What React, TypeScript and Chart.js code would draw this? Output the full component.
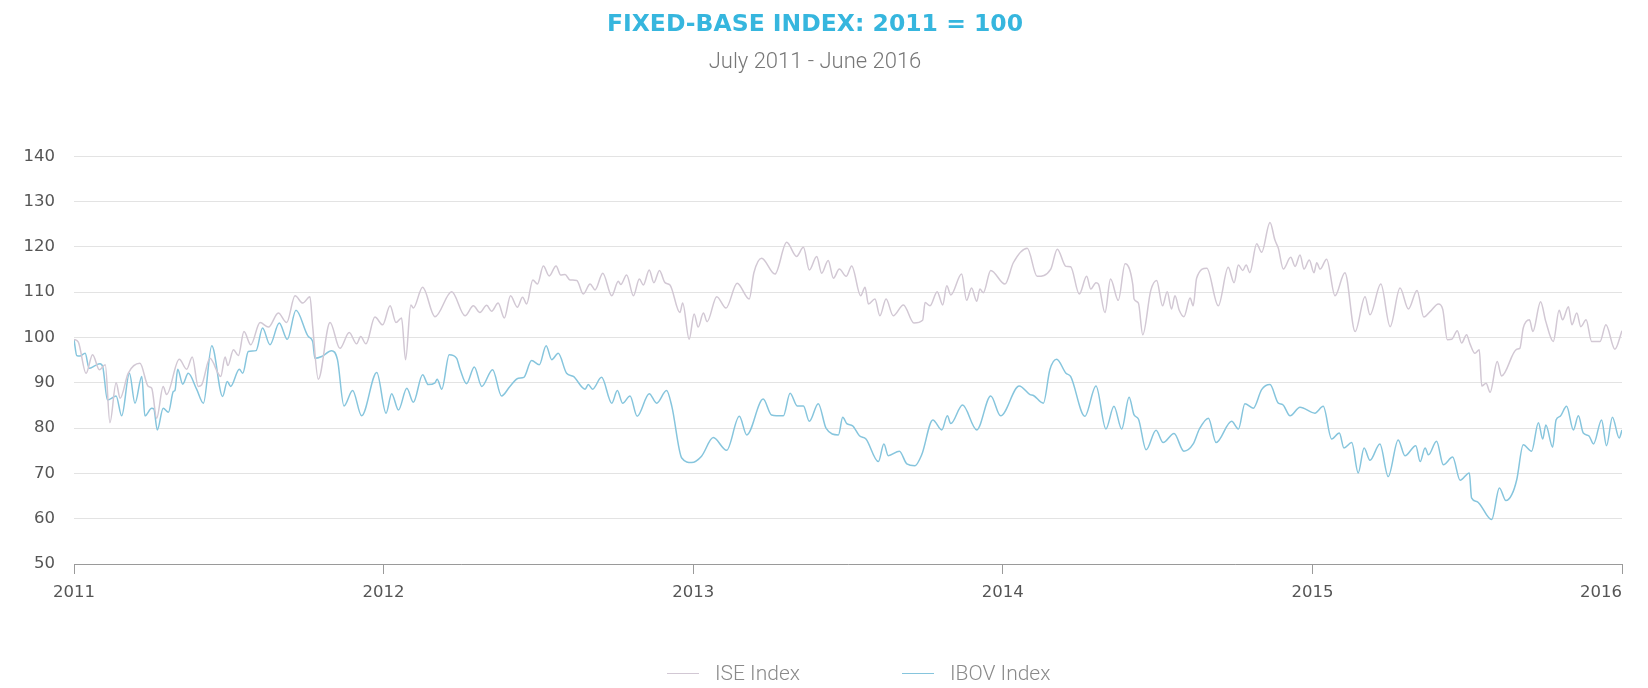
import React, { useEffect, useRef } from "react";
import { Chart, registerables } from "chart.js";

Chart.register(...registerables);

const TITLE = "FIXED-BASE INDEX: 2011 = 100";
const SUBTITLE = "July 2011 - June 2016";
const SERIES_NAMES = ["ISE Index", "IBOV Index"];
const SERIES_COLORS = ["#d2c8d4", "#86c5dd"];
const X_TICKS = [2011, 2012, 2013, 2014, 2015, 2016];
const Y_TICKS = [50, 60, 70, 80, 90, 100, 110, 120, 130, 140];

const iseDates = [
  2011.0, 2011.014, 2011.039, 2011.06, 2011.082, 2011.101, 2011.116, 2011.136, 2011.149, 2011.175,
  2011.213, 2011.24, 2011.251, 2011.267, 2011.288, 2011.299, 2011.34, 2011.364, 2011.382, 2011.401,
  2011.412, 2011.439, 2011.474, 2011.488, 2011.497, 2011.515, 2011.531, 2011.549, 2011.571, 2011.601,
  2011.628, 2011.66, 2011.687, 2011.714, 2011.739, 2011.762, 2011.771, 2011.789, 2011.827, 2011.859,
  2011.889, 2011.913, 2011.926, 2011.943, 2011.972, 2011.997, 2012.021, 2012.04, 2012.058, 2012.071,
  2012.088, 2012.096, 2012.126, 2012.166, 2012.22, 2012.263, 2012.29, 2012.311, 2012.333, 2012.349,
  2012.37, 2012.39, 2012.41, 2012.432, 2012.449, 2012.462, 2012.482, 2012.497, 2012.516, 2012.535,
  2012.557, 2012.572, 2012.586, 2012.602, 2012.624, 2012.645, 2012.667, 2012.683, 2012.708, 2012.737,
  2012.758, 2012.766, 2012.785, 2012.807, 2012.826, 2012.839, 2012.858, 2012.873, 2012.891, 2012.909,
  2012.925, 2012.957, 2012.966, 2012.987, 2013.003, 2013.016, 2013.033, 2013.045, 2013.076, 2013.106,
  2013.142, 2013.181, 2013.196, 2013.221, 2013.264, 2013.302, 2013.334, 2013.356, 2013.375, 2013.399,
  2013.415, 2013.436, 2013.453, 2013.472, 2013.494, 2013.512, 2013.541, 2013.555, 2013.566, 2013.587,
  2013.603, 2013.623, 2013.646, 2013.679, 2013.713, 2013.741, 2013.749, 2013.765, 2013.788, 2013.806,
  2013.819, 2013.832, 2013.867, 2013.883, 2013.899, 2013.916, 2013.926, 2013.937, 2013.961, 2014.007,
  2014.034, 2014.079, 2014.111, 2014.155, 2014.176, 2014.204, 2014.219, 2014.247, 2014.271, 2014.284,
  2014.301, 2014.309, 2014.33, 2014.348, 2014.373, 2014.395, 2014.42, 2014.424, 2014.438, 2014.452,
  2014.478, 2014.497, 2014.516, 2014.531, 2014.545, 2014.556, 2014.57, 2014.585, 2014.605, 2014.615,
  2014.626, 2014.659, 2014.696, 2014.728, 2014.747, 2014.761, 2014.775, 2014.786, 2014.798, 2014.82,
  2014.836, 2014.863, 2014.879, 2014.89, 2014.906, 2014.93, 2014.944, 2014.96, 2014.973, 2014.99,
  2015.005, 2015.014, 2015.025, 2015.046, 2015.073, 2015.105, 2015.138, 2015.17, 2015.186, 2015.221,
  2015.251, 2015.283, 2015.31, 2015.338, 2015.36, 2015.38, 2015.407, 2015.421, 2015.436, 2015.45,
  2015.468, 2015.482, 2015.498, 2015.509, 2015.525, 2015.539, 2015.547, 2015.561, 2015.574, 2015.597,
  2015.611, 2015.66, 2015.67, 2015.681, 2015.701, 2015.712, 2015.737, 2015.754, 2015.778, 2015.797,
  2015.808, 2015.827, 2015.838, 2015.854, 2015.867, 2015.884, 2015.902, 2015.929, 2015.948, 2015.977,
  2016.0,
];
const iseValues = [
  99.6, 99, 92.1, 96.2, 92.9, 94, 81.2, 90, 86.6, 92.1,
  94.3, 89.2, 88.8, 82.2, 89.2, 87.4, 95.2, 93, 95.7, 89.2,
  89.5, 95.4, 91.4, 95.7, 93.8, 97.3, 96, 101.3, 98.4, 103.3,
  102.3, 105.4, 103.3, 109.2, 107.6, 109, 102.4, 90.8, 103.3, 97.6,
  101.1, 98.6, 100.2, 98.6, 104.5, 102.8, 107, 103.3, 104.3, 95.1,
  107.2, 106.5, 111.1, 104.6, 110.1, 104.8, 107, 105.5, 107.1, 105.8,
  107.6, 104.3, 109.2, 106.7, 108.9, 107.4, 112.7, 111.8, 115.8, 113.6,
  115.8, 113.8, 113.9, 112.7, 112.6, 109.6, 111.8, 110.5, 114.2, 109.2,
  112.4, 111.7, 113.8, 109.2, 112.9, 111.6, 114.9, 112.1, 114.8, 112.1,
  111.6, 105.5, 107.6, 99.6, 105.2, 102.3, 105.4, 103.5, 109, 106.5,
  112, 108.5, 114.3, 117.5, 114, 121, 117.9, 119.9, 114.9, 117.9,
  114.2, 117, 113.1, 115.1, 113.5, 115.8, 109.2, 111.1, 107.4, 108.5,
  104.8, 108.5, 104.8, 107.2, 103.2, 103.8, 107.7, 107, 110.1, 107.2,
  111.4, 109.4, 114, 108.2, 110.9, 108, 110.7, 109.9, 114.8, 111.8,
  116.5, 119.7, 113.5, 115.1, 119.5, 115.7, 115.6, 109.6, 113.5, 110.7,
  112.1, 111.8, 105.5, 112.9, 108.2, 116.3, 111.6, 108.5, 107.6, 100.6,
  110.4, 112.6, 107, 110.1, 106.3, 109.2, 106, 104.6, 108.7, 107,
  113.1, 115.3, 107, 115.5, 112.1, 116, 114.8, 116, 114.3, 120.7,
  118.8, 125.4, 121.5, 119.7, 115.1, 117.7, 115.7, 118.2, 115.1, 117.1,
  114.3, 116.5, 115.1, 117.3, 109.2, 114.3, 101.3, 109, 105, 111.8,
  102.4, 110.9, 106.3, 110.4, 104.5, 105.7, 107.4, 106.2, 99.5, 99.6,
  101.5, 98.8, 100.6, 98.6, 96.5, 97.3, 89.3, 89.9, 87.9, 94.7,
  91.5, 97.4, 97.6, 102.1, 103.9, 101.3, 107.9, 103.5, 99.1, 106,
  103.9, 106.8, 102.8, 105.4, 102.4, 103.9, 99.1, 99.1, 102.8, 97.4,
  101.5,
];

const ibovDates = [
  2011.0, 2011.009, 2011.019, 2011.036, 2011.049, 2011.068, 2011.084, 2011.093, 2011.108, 2011.127,
  2011.136, 2011.154, 2011.179, 2011.197, 2011.219, 2011.229, 2011.251, 2011.258, 2011.269, 2011.288,
  2011.305, 2011.321, 2011.326, 2011.335, 2011.351, 2011.369, 2011.396, 2011.418, 2011.445, 2011.48,
  2011.495, 2011.506, 2011.534, 2011.545, 2011.563, 2011.588, 2011.609, 2011.633, 2011.663, 2011.689,
  2011.717, 2011.757, 2011.771, 2011.778, 2011.8, 2011.832, 2011.851, 2011.872, 2011.9, 2011.929,
  2011.978, 2012.008, 2012.026, 2012.048, 2012.075, 2012.096, 2012.126, 2012.144, 2012.166, 2012.173,
  2012.188, 2012.212, 2012.236, 2012.247, 2012.268, 2012.293, 2012.317, 2012.352, 2012.381, 2012.408,
  2012.435, 2012.453, 2012.478, 2012.503, 2012.525, 2012.543, 2012.564, 2012.591, 2012.613, 2012.651,
  2012.661, 2012.675, 2012.704, 2012.737, 2012.755, 2012.772, 2012.796, 2012.819, 2012.858, 2012.882,
  2012.914, 2012.931, 2012.963, 2012.995, 2013.027, 2013.065, 2013.108, 2013.149, 2013.173, 2013.226,
  2013.253, 2013.291, 2013.313, 2013.336, 2013.356, 2013.375, 2013.404, 2013.429, 2013.469, 2013.483,
  2013.496, 2013.515, 2013.537, 2013.558, 2013.598, 2013.616, 2013.63, 2013.666, 2013.69, 2013.716,
  2013.738, 2013.774, 2013.803, 2013.821, 2013.832, 2013.87, 2013.916, 2013.961, 2013.993, 2014.053,
  2014.088, 2014.099, 2014.131, 2014.152, 2014.174, 2014.204, 2014.219, 2014.265, 2014.301, 2014.333,
  2014.359, 2014.384, 2014.408, 2014.424, 2014.438, 2014.463, 2014.495, 2014.518, 2014.553, 2014.585,
  2014.615, 2014.635, 2014.664, 2014.689, 2014.739, 2014.761, 2014.782, 2014.809, 2014.836, 2014.863,
  2014.89, 2014.904, 2014.928, 2014.96, 2015.008, 2015.035, 2015.062, 2015.087, 2015.102, 2015.127,
  2015.148, 2015.167, 2015.186, 2015.218, 2015.245, 2015.277, 2015.299, 2015.334, 2015.348, 2015.364,
  2015.375, 2015.401, 2015.423, 2015.453, 2015.477, 2015.507, 2015.514, 2015.531, 2015.579, 2015.604,
  2015.625, 2015.644, 2015.66, 2015.681, 2015.708, 2015.73, 2015.744, 2015.754, 2015.776, 2015.787,
  2015.8, 2015.821, 2015.843, 2015.859, 2015.875, 2015.893, 2015.908, 2015.934, 2015.95, 2015.969,
  2015.991, 2016.0,
];
const ibovValues = [
  99.6, 96, 95.9, 96.5, 93.2, 93.8, 94.2, 93.5, 86.2, 86.8,
  87.1, 82.7, 92.1, 85.5, 91.4, 82.7, 84.4, 84.2, 79.6, 84.4,
  83.5, 88.1, 88.3, 93, 89.7, 92.1, 88.6, 85.5, 98.2, 87,
  90.3, 89.2, 93, 92.1, 96.9, 97.1, 102.1, 98.4, 103.2, 99.6,
  106, 100.2, 99.1, 95.4, 95.8, 97.1, 95.1, 84.9, 88.3, 82.7,
  92.3, 83.3, 87.6, 84, 88.8, 85.7, 91.8, 89.6, 90, 90.8,
  88.6, 96.2, 95.4, 93, 89.8, 93.5, 89.2, 92.9, 87.1, 89.2,
  91, 91.2, 94.9, 94, 98.2, 95.1, 96.5, 92.1, 91.4, 88.6,
  89.6, 88.6, 91.2, 85.5, 88.3, 85.5, 87.1, 82.6, 87.6, 85.5,
  88.3, 84.8, 73.4, 72.4, 73.8, 77.9, 75.1, 82.6, 78.5, 86.4,
  82.9, 82.7, 87.7, 84.9, 84.9, 81.5, 85.4, 80, 78.5, 82.4,
  81, 80.5, 78.3, 77.6, 72.6, 76.5, 73.9, 74.9, 72.1, 71.7,
  74.1, 81.8, 79.6, 82.7, 81, 85.1, 79.6, 87.1, 82.7, 89.3,
  87.4, 87.2, 85.5, 92.9, 95.2, 92.1, 91.4, 82.6, 89.3, 79.8,
  84.8, 79.8, 86.8, 82.9, 82, 75.2, 79.5, 76.8, 78.8, 74.9,
  76.5, 79.8, 82.2, 76.8, 81.5, 79.8, 85.4, 84.4, 88.5, 89.6,
  85.5, 85.2, 82.7, 84.6, 83.3, 84.8, 77.6, 78.9, 75.6, 76.8,
  70.1, 75.6, 72.9, 76.5, 69.3, 77.4, 73.9, 76.1, 72.6, 75.6,
  74.1, 77.1, 71.9, 73.6, 68.5, 70.1, 64.6, 63.8, 59.8, 66.8,
  64, 65.3, 68.6, 76.3, 74.9, 81.2, 77.6, 80.7, 75.8, 81.8,
  82.6, 84.8, 79.6, 82.7, 78.9, 78.3, 76.5, 81.8, 76.1, 82.4,
  77.8, 79.6,
];

const SERIES = [
  { dates: iseDates, values: iseValues },
  { dates: ibovDates, values: ibovValues },
];

const TICK_FONT = { family: "DejaVu Sans", size: 16.5 };

export default function App() {
  const canvasRef = useRef<HTMLCanvasElement | null>(null);

  useEffect(() => {
    if (!canvasRef.current) return;
    const chart = new Chart(canvasRef.current, {
      type: "line",
      data: {
        datasets: SERIES.map((s, k) => ({
          label: SERIES_NAMES[k],
          data: s.dates.map((d, i) => ({ x: d, y: s.values[i] })),
          borderColor: SERIES_COLORS[k],
          backgroundColor: SERIES_COLORS[k],
          borderWidth: 1.5,
          pointRadius: 0,
          cubicInterpolationMode: "monotone" as const,
          fill: false,
        })),
      },
      options: {
        animation: false,
        responsive: true,
        maintainAspectRatio: false,
        layout: { padding: { left: 0, right: 18, top: 0, bottom: 76 } },
        plugins: {
          legend: { display: false },
          tooltip: { enabled: false },
          title: {
            display: true,
            text: TITLE,
            color: "#36b6de",
            font: { family: "DejaVu Sans", weight: "bold", size: 23.5, lineHeight: 1.2 },
            padding: { top: 3.2, bottom: 10.2 },
          },
          subtitle: {
            display: true,
            text: SUBTITLE,
            color: "#777777",
            font: { family: "Roboto", weight: 300, size: 22, lineHeight: 1.2 },
            padding: { top: 0, bottom: 80.3 },
          },
        },
        scales: {
          x: {
            type: "linear",
            min: X_TICKS[0],
            max: X_TICKS[X_TICKS.length - 1],
            afterBuildTicks: (scale: any) => {
              // leading blank tick so that the first year stays centred while the last one is right-aligned
              scale.ticks = [{ value: X_TICKS[0] }, ...X_TICKS.map((v) => ({ value: v }))];
            },
            afterFit: (scale: any) => {
              scale.height = 40;
              scale.paddingLeft = 0;
              scale.paddingRight = 0;
            },
            ticks: {
              callback: (v: any, i: number) => (i === 0 ? "" : String(v)),
              align: "inner",
              color: "#555555",
              font: TICK_FONT,
              padding: 9,
              maxRotation: 0,
              autoSkip: false,
            },
            grid: { drawOnChartArea: false, drawTicks: true, tickLength: 10, color: "#9a9a9a" },
            border: { display: true, color: "#9a9a9a", width: 1 },
          },
          y: {
            min: Y_TICKS[0],
            max: Y_TICKS[Y_TICKS.length - 1],
            afterBuildTicks: (scale: any) => {
              scale.ticks = Y_TICKS.map((v) => ({ value: v }));
            },
            afterFit: (scale: any) => {
              scale.width = 66;
            },
            ticks: { color: "#555555", font: TICK_FONT, padding: 19 },
            grid: { color: "#e3e3e3", drawTicks: false, lineWidth: 1 },
            border: { display: false },
          },
        },
      },
    });
    return () => chart.destroy();
  }, []);

  const legendLeft = [659, 894];

  return (
    <div style={{ position: "relative", width: 1632, height: 672 }}>
      <div style={{ position: "absolute", left: 0, top: 0, width: 1632, height: 672 }}>
        <canvas ref={canvasRef} />
      </div>
      {SERIES_NAMES.map((name, k) => (
        <div
          key={name}
          style={{
            position: "absolute",
            left: legendLeft[k],
            top: 651,
            height: 28,
            display: "flex",
            alignItems: "center",
            fontFamily: "Roboto",
            fontWeight: 300,
            fontSize: 21,
            color: "#8a8a8a",
            whiteSpace: "nowrap",
          }}
        >
          <div style={{ width: 32, height: 0, borderTop: `1.5px solid ${SERIES_COLORS[k]}` }} />
          <span style={{ marginLeft: 16 }}>{name}</span>
        </div>
      ))}
    </div>
  );
}
